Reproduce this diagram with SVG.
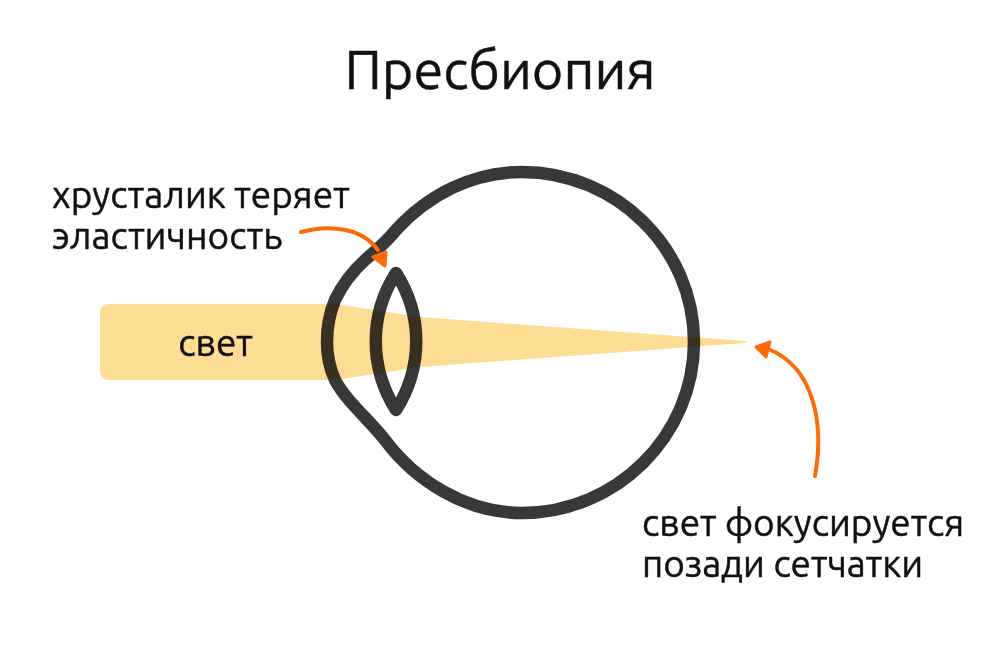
<svg xmlns="http://www.w3.org/2000/svg" width="1000" height="646" viewBox="0 0 1000 646">
<style>
text{font-family:Ubuntu,"Noto Sans","DejaVu Sans",sans-serif;fill:#111;stroke:#111;stroke-width:.45}
.l{font-size:37px}
.e{fill:none;stroke:#383838;stroke-width:12.5;stroke-linejoin:round}
.a{fill:none;stroke:#fb6b0a;stroke-width:4;stroke-linecap:round}
.h{fill:#fb6b0a;stroke:#fb6b0a;stroke-width:3;stroke-linejoin:round}
</style>
<rect width="1000" height="646" fill="#fff"/>
<text x="500" y="89" text-anchor="middle" font-size="54" id="title">Пресбиопия</text>
<g id="eye"><path class="e" d="M396 230C428 195 472 172 522 172C616 172 694 248 694 342C694 436 616 513 522 513C465 513 415 480 385 440C374 426 361 414 349 400C344 394 339 388 335 380C330 369 327 355 327 342C327 327 330 312 335 300C342 285 353 271 365 260C377 250 388 240 396 230Z"/></g>
<g id="lens"><path class="e" d="M396 273C369 315 369 367 396 410C423 367 423 315 396 273Z"/></g>
<g id="light" style="mix-blend-mode:multiply"><path d="M109 304H335L420 317L745 341Q748 342 745 343L420 367L335 380H109Q100 380 100 371V313Q100 304 109 304Z" fill="#fddc94"/></g>
<text class="l" x="215.500" y="356" text-anchor="middle">свет</text>
<g id="connectors">
<path class="a" d="M301 232C330 224 362 228 378 250"/><path class="h" d="M385 266L373 257L386 252Z"/>
<path class="a" d="M815 476C825 420 812 366 768 349"/><path class="h" d="M756 347L770 342L766 357Z"/>
</g>
<g id="label-lens"><text class="l" x="52" y="208">хрусталик теряет</text><text class="l" x="52" y="249">эластичность</text></g>
<g id="label-focus"><text class="l" x="642" y="536">свет фокусируется</text><text class="l" x="642" y="577">позади сетчатки</text></g>
</svg>
